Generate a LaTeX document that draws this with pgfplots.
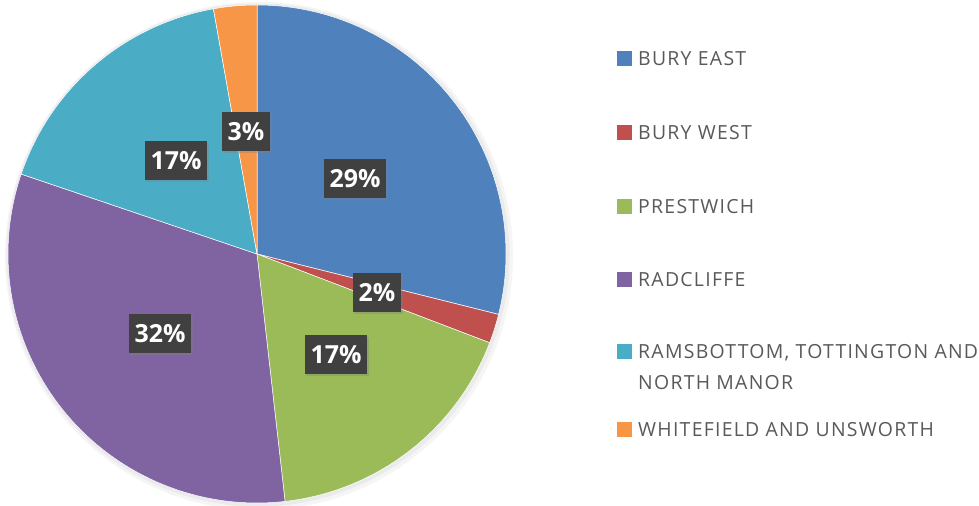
\documentclass[border=0pt]{standalone}
\usepackage{fontspec}
\setmainfont{Open Sans}
\newfontfamily\legfont[LetterSpace=6.5]{Open Sans}
\usepackage{pgfplots}
\pgfplotsset{compat=1.18}
\usetikzlibrary{shadows}
\definecolor{cEast}{HTML}{4F81BD}
\definecolor{cWest}{HTML}{C0504D}
\definecolor{cPrest}{HTML}{9BBB59}
\definecolor{cRad}{HTML}{8064A2}
\definecolor{cRams}{HTML}{4BACC6}
\definecolor{cWhite}{HTML}{F79646}
\definecolor{legtext}{HTML}{595959}
\definecolor{boxc}{HTML}{404040}
% shares (percent)
\def\pEast{28.9}
\def\pWest{1.9}
\def\pPrest{17.4}
\def\pRad{32.0}
\def\pRams{17.0}
\def\pWhite{2.8}
\pgfmathsetmacro\aA{90}
\pgfmathsetmacro\aB{\aA-3.6*\pEast}
\pgfmathsetmacro\aC{\aB-3.6*\pWest}
\pgfmathsetmacro\aD{\aC-3.6*\pPrest}
\pgfmathsetmacro\aE{\aD-3.6*\pRad}
\pgfmathsetmacro\aF{\aE-3.6*\pRams}
\pgfmathsetmacro\aG{\aF-3.6*\pWhite}
\def\cx{257}
\def\cy{252}
\def\r{249}
\begin{document}
\begin{tikzpicture}[
  lab/.style={fill=boxc, text=white, font=\fontsize{25}{28}\selectfont\bfseries,
    minimum height=39bp, inner xsep=6bp, inner ysep=0pt,
    drop shadow={opacity=0.35, shadow xshift=1.5bp, shadow yshift=-1.5bp}},
  leg/.style={anchor=base west, inner sep=0pt, text=legtext, font=\legfont\fontsize{19.5}{23}\selectfont}
]
\begin{axis}[hide axis, scale only axis, width=979bp, height=506bp,
  xmin=0, xmax=979, ymin=0, ymax=506, clip=false]
% soft shadow
\fill[black, opacity=0.04] (axis cs:259,250) circle[radius=254bp];
\fill[black, opacity=0.04] (axis cs:258,251) circle[radius=251.5bp];
\pgfplotsset{slice/.style={draw=white, line width=0.5bp, samples=90, variable=\t}}
\addplot[slice, fill=cEast, domain=\aB:\aA] ({\cx+\r*cos(\t)},{\cy+\r*sin(\t)}) -- (axis cs:\cx,\cy) -- cycle;
\addplot[slice, fill=cWest, domain=\aC:\aB] ({\cx+\r*cos(\t)},{\cy+\r*sin(\t)}) -- (axis cs:\cx,\cy) -- cycle;
\addplot[slice, fill=cPrest, domain=\aD:\aC] ({\cx+\r*cos(\t)},{\cy+\r*sin(\t)}) -- (axis cs:\cx,\cy) -- cycle;
\addplot[slice, fill=cRad, domain=\aE:\aD] ({\cx+\r*cos(\t)},{\cy+\r*sin(\t)}) -- (axis cs:\cx,\cy) -- cycle;
\addplot[slice, fill=cRams, domain=\aF:\aE] ({\cx+\r*cos(\t)},{\cy+\r*sin(\t)}) -- (axis cs:\cx,\cy) -- cycle;
\addplot[slice, fill=cWhite, domain=\aG:\aF] ({\cx+\r*cos(\t)},{\cy+\r*sin(\t)}) -- (axis cs:\cx,\cy) -- cycle;
% data labels
\node[lab] at (axis cs:355,327) {29\%};
\node[lab] at (axis cs:377,213) {2\%};
\node[lab] at (axis cs:336,151) {17\%};
\node[lab] at (axis cs:160,172) {32\%};
\node[lab] at (axis cs:176,345) {17\%};
\node[lab] at (axis cs:246,374) {3\%};
% legend
\fill[cEast]  (axis cs:617,440) rectangle (axis cs:632,455);
\fill[cWest]  (axis cs:617,366) rectangle (axis cs:632,381);
\fill[cPrest] (axis cs:617,292) rectangle (axis cs:632,307);
\fill[cRad]   (axis cs:617,219) rectangle (axis cs:632,234);
\fill[cRams]  (axis cs:617,147) rectangle (axis cs:632,162);
\fill[cWhite] (axis cs:617,69)  rectangle (axis cs:632,84);
\node[leg] at (axis cs:638,440.2) {BURY EAST};
\node[leg] at (axis cs:638,366.2) {BURY WEST};
\node[leg] at (axis cs:638,292.2) {PRESTWICH};
\node[leg] at (axis cs:638,219.2) {RADCLIFFE};
\node[leg] at (axis cs:638,147.2) {RAMSBOTTOM, TOTTINGTON AND};
\node[leg] at (axis cs:638,116.2) {NORTH MANOR};
\node[leg] at (axis cs:638,69.2)  {WHITEFIELD AND UNSWORTH};
\end{axis}
\pgfresetboundingbox
\path (0,0) rectangle (979bp,506bp);
\end{tikzpicture}
\end{document}
